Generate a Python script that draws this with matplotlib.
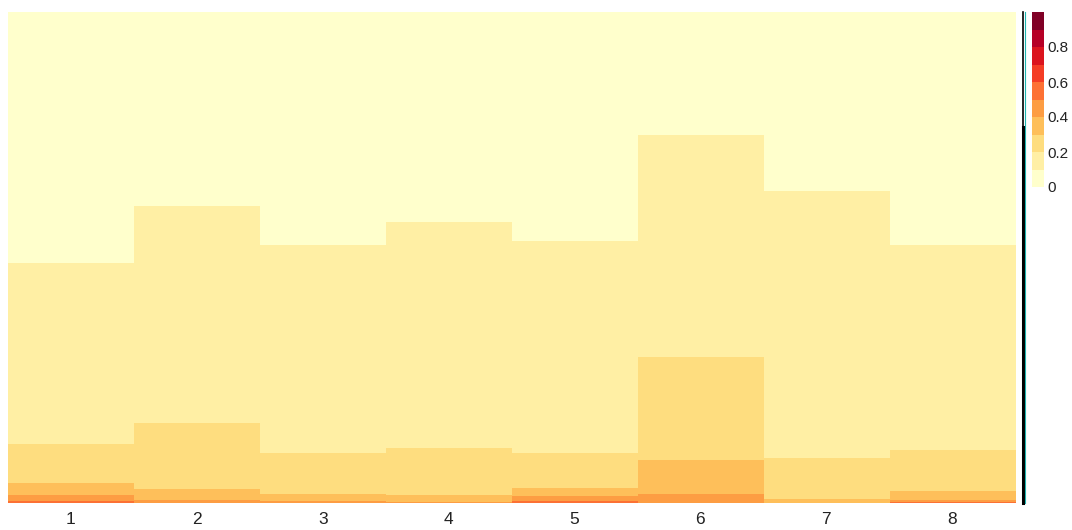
import numpy as np
import matplotlib.pyplot as plt
from matplotlib.colors import BoundaryNorm
from matplotlib.lines import Line2D

plt.rcParams['font.family'] = ['Liberation Sans', 'DejaVu Sans']

columns = ["1", "2", "3", "4", "5", "6", "7", "8"]
bin_edges = np.round(np.arange(0, 1.01, 0.1), 1)
cbar_ticks = [0, 0.2, 0.4, 0.6, 0.8]

# share of rows (%) in each 0.1-wide value bin, lowest bin first
col1 = [51.15, 36.74, 8.03, 2.36, 1.30, 0.41]
col2 = [39.54, 44.28, 13.39, 2.24, 0.55]
col3 = [47.48, 42.45, 8.15, 1.51, 0.41]
col4 = [42.69, 46.02, 9.58, 1.51, 0.20]
col5 = [46.67, 43.14, 7.25, 1.57, 0.96, 0.41]
col6 = [25.00, 45.24, 21.05, 6.79, 1.92]
col7 = [36.54, 54.41, 8.15, 0.90]
col8 = [47.34, 41.78, 8.44, 1.75, 0.35, 0.35]
shares = [col1, col2, col3, col4, col5, col6, col7, col8]

n_rows = 1000
centers = (bin_edges[:-1] + bin_edges[1:]) / 2

# build the row x column matrix, rows sorted so low values sit on top
mat = np.zeros((n_rows, len(columns)))
for j, pct in enumerate(shares):
    counts = np.round(np.array(pct) / 100 * n_rows).astype(int)
    counts[0] += n_rows - counts.sum()
    mat[:, j] = np.repeat(centers[:len(counts)], counts)

W, H = 1072, 530
fig = plt.figure(figsize=(W / 100, H / 100), dpi=100)

ax = fig.add_axes([8 / W, (H - 502.7) / H, (1015 - 8) / W, 490.7 / H])
cmap = plt.get_cmap('YlOrRd', 10)
norm = BoundaryNorm(bin_edges, cmap.N)
im = ax.imshow(mat, aspect='auto', cmap=cmap, norm=norm, interpolation='nearest')
ax.set_xticks(np.arange(len(columns)))
ax.set_xticklabels(columns, fontsize=12.5, color='#222222')
ax.set_yticks([])
ax.tick_params(axis='x', length=0, pad=7)
for s in ax.spines.values():
    s.set_visible(False)

# colour key
cax = fig.add_axes([1031.5 / W, (H - 187) / H, 12 / W, 175 / H])
cb = fig.colorbar(im, cax=cax, ticks=cbar_ticks)
cb.ax.minorticks_off()
cb.ax.set_yticklabels([f"{t:g}" for t in cbar_ticks], fontsize=11, color='#222222')
cb.ax.tick_params(which='both', length=0, pad=3)
cb.outline.set_visible(False)

# thin side strip next to the heatmap
def fx(px):
    return px / W

def fy(py):
    return (H - py) / H

fig.add_artist(Line2D([fx(1022.5), fx(1022.5)], [fy(12), fy(127)], color='black', lw=1.2))
fig.add_artist(Line2D([fx(1022.5), fx(1022.5)], [fy(127), fy(503)], color='black', lw=2.2))
fig.add_artist(Line2D([fx(1024.5), fx(1024.5)], [fy(12), fy(503)], color='#1fb5b0', lw=0.8))

plt.savefig("out.png", dpi=100)
